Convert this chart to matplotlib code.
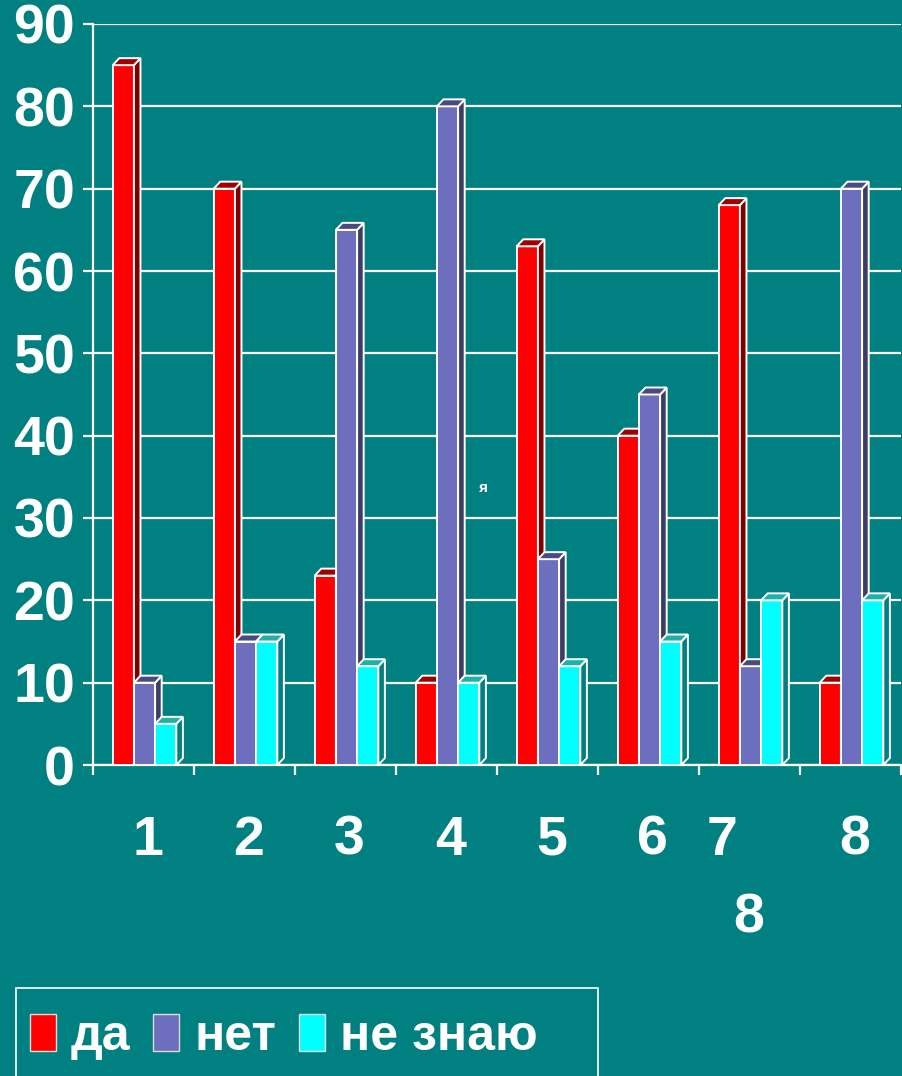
import numpy as np
import matplotlib.pyplot as plt
from matplotlib.patches import Polygon, Rectangle, Patch

# -------------------- Font settings ---------------------
plt.rcParams['font.family'] = ['Liberation Sans', 'DejaVu Sans']
plt.rcParams['font.weight'] = 'bold'

# ================= Data =================
groups = ['1', '2', '3', '4', '5', '6', '7', '8']
series_names = ['да', 'нет', 'не знаю']
da = [85, 70, 23, 10, 63, 40, 68, 10]
net = [10, 15, 65, 80, 25, 45, 12, 70]
ne_znayu = [5, 15, 12, 10, 12, 15, 20, 20]
yticks = [0, 10, 20, 30, 40, 50, 60, 70, 80, 90]

# face / side / top colours per series
colors = [
    ('#ff0000', '#800000', '#a00000'),
    ('#6e6ebf', '#3c3c64', '#4a4a80'),
    ('#00ffff', '#008080', '#20b0a8'),
]
bg = '#008080'

# ================= Plotting ====================
fig = plt.figure(figsize=(9.03, 10.76), dpi=100, facecolor=bg)
ax = fig.add_axes([93 / 903, 1 - 765 / 1076, 808 / 903, 741 / 1076])
ax.set_facecolor(bg)

width = 0.21
offsets = [-0.2, 0.01, 0.22]
dx, dy = 0.065, 0.85   # fake 3D depth
x = np.arange(len(groups)) + 0.5

data_list = [da, net, ne_znayu]
for gi in range(len(groups)):
    for si, vals in enumerate(data_list):
        face, side, top = colors[si]
        xl = x[gi] + offsets[si] - width / 2
        h = vals[gi]
        z = 3 + gi * 3 + si
        ax.bar(xl, h, width=width, align='edge', color=face,
               edgecolor='white', linewidth=1.4, zorder=z)
        xr = xl + width
        ax.add_patch(Polygon([(xr, 0), (xr + dx, dy), (xr + dx, h + dy), (xr, h)],
                             closed=True, facecolor=side, edgecolor='white',
                             linewidth=1.4, zorder=z))
        ax.add_patch(Polygon([(xl, h), (xl + dx, h + dy), (xr + dx, h + dy), (xr, h)],
                             closed=True, facecolor=top, edgecolor='white',
                             linewidth=1.4, zorder=z))

ax.set_xlim(0, len(groups))
ax.set_ylim(0, 90)
ax.set_yticks(yticks)
ax.set_yticklabels([str(v) for v in yticks], fontsize=40, color='white', fontweight='bold')
ax.yaxis.grid(True, color='white', linewidth=1.6, zorder=0)
ax.set_axisbelow(True)
ax.tick_params(axis='y', length=7, width=1.6, color='white', pad=6)

ax.set_xticks(np.arange(len(groups) + 1))
ax.set_xticklabels([])
ax.tick_params(axis='x', length=7, width=1.6, color='white')

for s in ['top', 'right']:
    ax.spines[s].set_visible(False)
for s in ['left', 'bottom']:
    ax.spines[s].set_color('white')
    ax.spines[s].set_linewidth(1.6)

# category labels under the groups
trans = ax.get_xaxis_transform()
for gi, lab in enumerate(groups):
    xpos = x[gi] + 0.04
    if lab == '7':
        xpos = x[gi] - 0.27
        ax.text(x[gi] - 0.01, -0.207, '8', transform=trans, ha='center', va='center',
                fontsize=40, color='white', fontweight='bold')
    ax.text(xpos, -0.102, lab, transform=trans, ha='center', va='center',
            fontsize=40, color='white', fontweight='bold')

# stray character in the chart area
ax.text(3.86, 33.6, 'я', ha='center', va='center', fontsize=11, color='white',
        fontweight='bold', zorder=30)

# legend
handles = [Patch(facecolor=c[0], edgecolor='#dddddd', linewidth=1) for c in colors]
fig.legend(handles, series_names, loc='center left', bbox_to_anchor=(30 / 903, 1 - 1037 / 1076),
           ncol=3, frameon=False, handlelength=0.52, handleheight=0.75,
           handletextpad=0.3, columnspacing=0.45, borderpad=0, borderaxespad=0,
           labelcolor='white', prop={'weight': 'bold', 'size': 36})
fig.add_artist(Rectangle((16 / 903, -0.01), 582 / 903, 0.01 + (1076 - 988) / 1076,
                         transform=fig.transFigure, fill=False, edgecolor='white',
                         linewidth=1.2))

plt.savefig('out.png', dpi=100, facecolor=bg)
